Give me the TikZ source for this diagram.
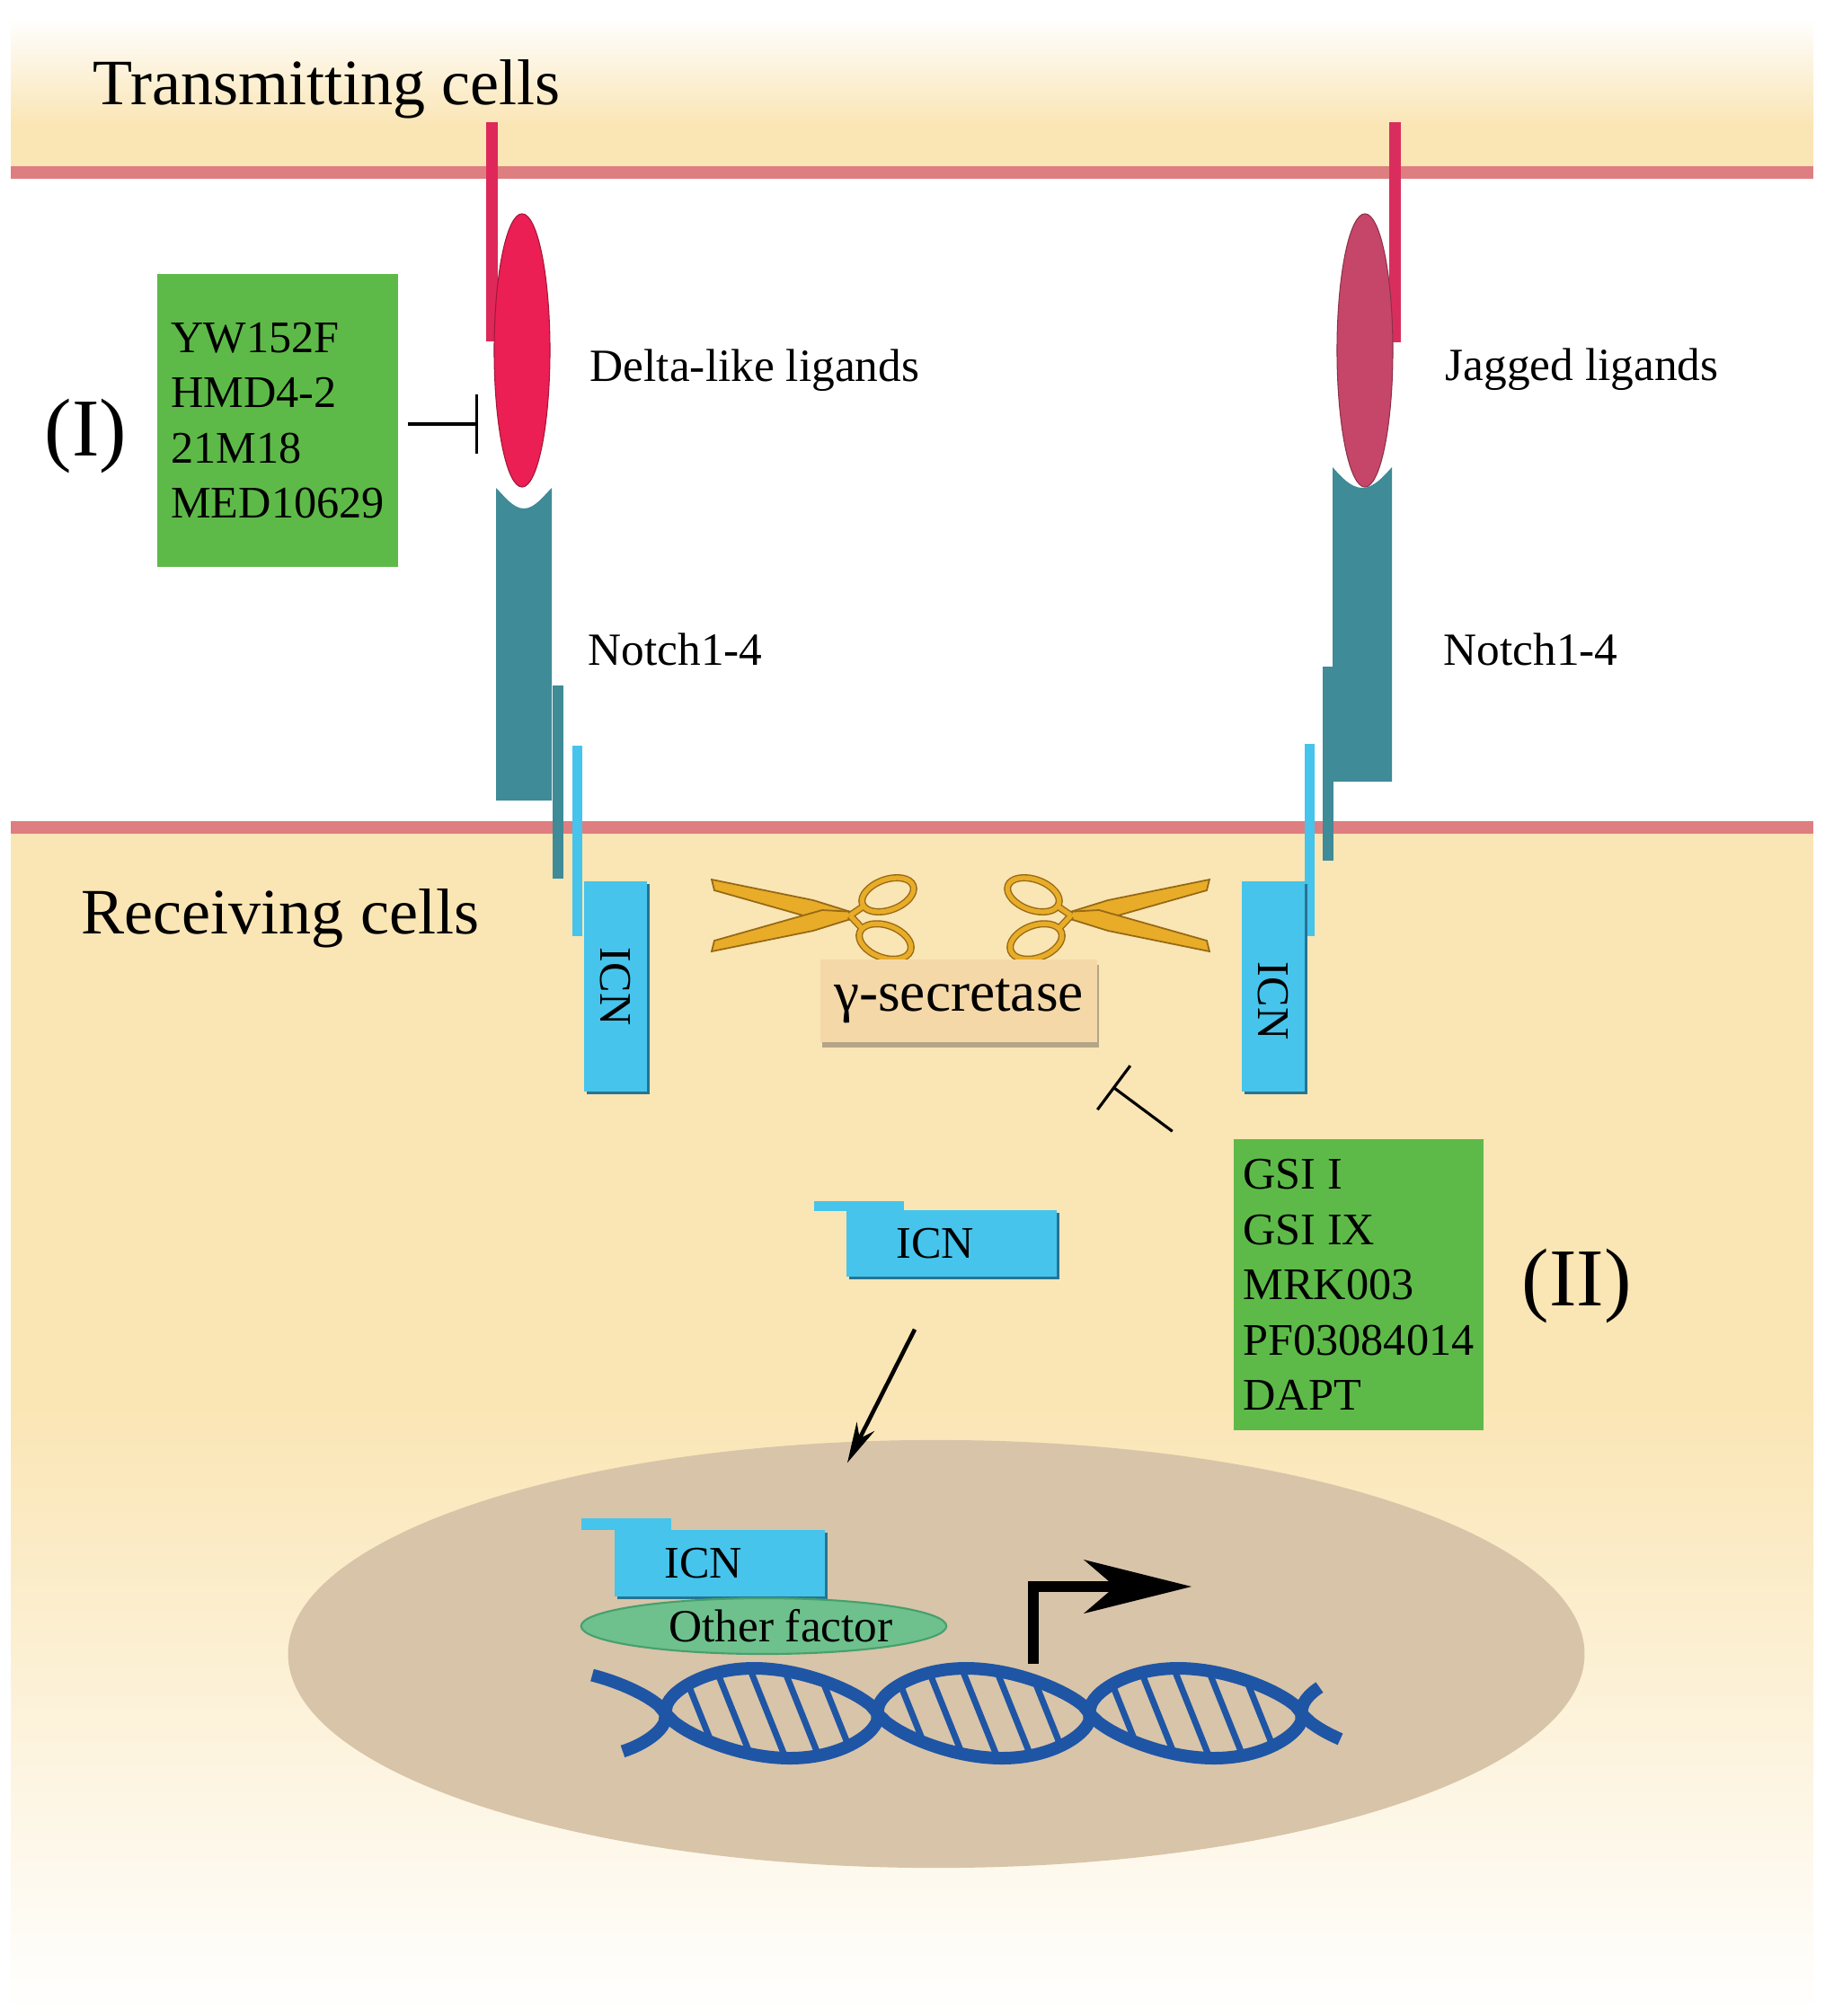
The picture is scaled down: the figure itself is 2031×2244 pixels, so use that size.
\documentclass[tikz,border=0pt]{standalone}
\usepackage{fontspec}
\setmainfont{Liberation Serif}
\usepackage{graphicx}
\usetikzlibrary{arrows.meta, shapes.geometric, shadows, calc}

\definecolor{cream}{RGB}{250,229,180}
\definecolor{membrane}{RGB}{222,126,128}
\definecolor{dllred}{RGB}{235,31,83}
\definecolor{jagred}{RGB}{198,70,106}
\definecolor{stalkred}{RGB}{222,40,90}
\definecolor{notchteal}{RGB}{63,139,151}
\definecolor{icnblue}{RGB}{70,196,236}
\definecolor{icnedge}{RGB}{40,115,145}
\definecolor{druggreen}{RGB}{94,186,72}
\definecolor{gsecbox}{RGB}{244,216,168}
\definecolor{gsecshadow}{RGB}{180,165,135}
\definecolor{scgold}{RGB}{232,172,40}
\definecolor{scdark}{RGB}{150,105,20}
\definecolor{nucleusfill}{RGB}{216,196,168}
\definecolor{factorgreen}{RGB}{110,193,140}
\definecolor{factoredge}{RGB}{70,160,110}
\definecolor{dnablue}{RGB}{31,85,165}

\newcommand{\titlefont}{\fontsize{20.5pt}{24pt}\selectfont}
\newcommand{\labelfont}{\fontsize{14.6pt}{17.5pt}\selectfont}
\newcommand{\drugfont}{\fontsize{14.3pt}{17.5pt}\selectfont}
\newcommand{\romanfont}{\fontsize{26pt}{30pt}\selectfont}
\newcommand{\gsecfont}{\fontsize{18pt}{21pt}\selectfont}

\tikzset{
    declare function={lobe(\t)=sin(\t)*pow(abs(sin(\t))+0.0001,-0.4);},
    membrane line/.style={draw=membrane, line width=0.14cm},
    ligand/.style={ellipse, inner sep=0pt, minimum width=0.62cm, minimum height=3.04cm},
    icnbox/.style={rectangle, fill=icnblue, inner sep=0pt, font=\drugfont,
        drop shadow={shadow xshift=0.03cm, shadow yshift=-0.03cm, fill=icnedge, opacity=1}},
    drugbox/.style={rectangle, fill=druggreen, align=left, inner sep=0pt, font=\drugfont},
    gsec/.style={rectangle, fill=gsecbox, inner sep=0pt, minimum width=3.07cm, minimum height=0.92cm, font=\gsecfont,
        drop shadow={shadow xshift=0.02cm, shadow yshift=-0.06cm, fill=gsecshadow, opacity=1}},
    label text/.style={anchor=base west, inner sep=0pt, font=\labelfont},
    blockline/.style={line width=0.9pt},
    ptarrow/.style={line width=1.3pt, -{Stealth[length=0.45cm, width=0.22cm]}},
    promoter/.style={line width=0.12cm, -{Stealth[length=1.2cm, width=0.6cm, inset=0.35cm, line width=0pt]}},
    blade/.style={fill=scgold, draw=scdark, line width=0.5pt},
    ringout/.style={draw=scdark, line width=0.08cm},
    ringin/.style={draw=scgold, line width=0.052cm},
    dnastrand/.style={draw=dnablue, line width=0.14cm},
    dnarung/.style={draw=dnablue, line width=0.07cm}
}

\begin{document}
\begin{tikzpicture}[x=0.01cm, y=-0.01cm]
        \useasboundingbox (0,0) rectangle (2031,2244);
        \fill[white] (0,0) rectangle (2031,2244);
        \shade[top color=white, bottom color=cream] (12,20) rectangle (2018,140);
        \fill[cream] (12,139) rectangle (2018,192);
        \fill[cream] (12,921) rectangle (2018,1560);
        \shade[top color=cream, bottom color=white] (12,1559) rectangle (2018,2244);
        \draw[membrane line] (12,192) -- (2018,192);
        \draw[membrane line] (12,921) -- (2018,921);

        \node[anchor=base west, inner sep=0pt, font=\titlefont] (transmit) at (103,116) {Transmitting cells};
        \node[anchor=base west, inner sep=0pt, font=\titlefont] (receive) at (90,1039) {Receiving cells};

        \fill[stalkred] (541,136) rectangle (554,380);
        \fill[stalkred!80!jagred] (1546,136) rectangle (1559,381);
        \node[ligand, fill=dllred, draw=dllred!70!black, line width=0.3pt] (dll) at (581,390) {};
        \node[ligand, fill=jagred, draw=jagred!70!black, line width=0.3pt] (jag) at (1519,390) {};
        \node[label text] (dlltext) at (656,424) {Delta-like ligands};
        \node[label text] (jagtext) at (1608,423) {Jagged ligands};

        \fill[notchteal] (552,891) -- (552,543) .. controls (561,552) and (571,566) .. (583,566)
            .. controls (595,566) and (605,552) .. (614,543) -- (614,891) -- cycle;
        \fill[notchteal] (1483,870) -- (1483,520) .. controls (1492,530) and (1503,543) .. (1516,543)
            .. controls (1529,543) and (1540,530) .. (1549,520) -- (1549,870) -- cycle;
        \node[label text] (notchl) at (654,740) {Notch1-4};
        \node[label text] (notchr) at (1606,740) {Notch1-4};

        \fill[notchteal] (615,763) rectangle (627,978);
        \fill[icnblue] (637,830) rectangle (648,1042);
        \fill[notchteal] (1472,742) rectangle (1484,958);
        \fill[icnblue] (1452,828) rectangle (1463,1042);
        \node[icnbox, minimum width=0.70cm, minimum height=2.34cm] (icnl) at (685,1098) {\rotatebox{-90}{ICN}};
        \node[icnbox, minimum width=0.70cm, minimum height=2.34cm] (icnr) at (1417,1098) {\rotatebox{-90}{\hspace*{0.32cm}ICN}};

        \node[drugbox, minimum width=2.68cm, minimum height=3.25cm] (drugsI) at (309,468)
            {YW152F\\HMD4-2\\21M18\\MED10629};
        \node[anchor=base west, inner sep=0pt, font=\romanfont] (romI) at (49,507) {(I)};
        \draw[blockline, -{Bar[width=0.66cm]}] ($(drugsI.east)+(10,4)$) -- ($(dll.west)+(-17,82)$);

        \foreach \mx/\ms in {0/1, 2138/-1} {
            \begin{scope}[shift={(\mx,0)}, xscale=\ms]
                \fill[blade] (792,979) -- (905,1002) -- (950,1016) -- (952,1023) -- (915,1025) -- (795,991) -- cycle;
                \fill[blade] (792,1059) -- (905,1036) -- (950,1022) -- (952,1015) -- (915,1013) -- (795,1047) -- cycle;
                \draw[ringout] (946,1019) -- (962,1008) (946,1019) -- (960,1034);
                \draw[ringout, rotate around={20:(988,996)}] (988,996) ellipse [x radius=30, y radius=17];
                \draw[ringout, rotate around={-20:(985,1048)}] (985,1048) ellipse [x radius=30, y radius=18];
                \draw[ringin] (946,1019) -- (962,1008) (946,1019) -- (960,1034);
                \draw[ringin, rotate around={20:(988,996)}] (988,996) ellipse [x radius=30, y radius=17];
                \draw[ringin, rotate around={-20:(985,1048)}] (985,1048) ellipse [x radius=30, y radius=18];
            \end{scope}
        }
        \node[gsec] (gsec) at (1067,1114) {γ-secretase};

        \node[drugbox, minimum width=2.77cm, minimum height=3.24cm] (drugsII) at (1512,1430)
            {GSI I\\GSI IX\\MRK003\\PF03084014\\DAPT};
        \node[anchor=base west, inner sep=0pt, font=\romanfont] (romII) at (1693,1453) {(II)};
        \draw[blockline, -{Bar[width=0.61cm]}] ($(drugsII.north west)+(-68,-8)$) -- ($(gsec.south east)+(17,49)$);

        \fill[icnblue] (906,1337) rectangle (1006,1348);
        \node[icnbox, minimum width=2.34cm, minimum height=0.74cm] (icnm) at (1059,1384) {ICN\hspace*{0.36cm}};

        \node[ellipse, fill=nucleusfill, inner sep=0pt, minimum width=14.42cm, minimum height=4.76cm] (nucleus) at (1042,1841) {};
        \draw[ptarrow] ($(icnm.south)+(-41,58)$) -- ($(nucleus.north)+(-99,26)$);

        \fill[icnblue] (647,1690) rectangle (747,1703);
        \node[icnbox, minimum width=2.33cm, minimum height=0.74cm] (icnn) at (801,1740) {ICN\hspace*{0.36cm}};
        \node[ellipse, fill=factorgreen, draw=factoredge, line width=0.6pt, inner sep=0pt,
            minimum width=4.04cm, minimum height=0.62cm, font=\labelfont] (factor) at (850,1810) {\hspace*{0.38cm}Other factor};

        \coordinate (tss) at (1150,1852);
        \draw[promoter] (tss) |- ++(176,-86);

        \foreach \k in {0,1,2}
            \foreach \f in {0.16,0.32,0.48,0.64,0.8} {
                \pgfmathsetmacro{\xr}{741+236*(\k+\f)}
                \pgfmathsetmacro{\sr}{lobe(180*(\k+\f))}
                \draw[dnarung] ({\xr-20*\sr},{1907-50*\sr}) -- ({\xr+20*\sr},{1907+50*\sr});
            }
        \foreach \s in {1,-1}
            \draw[dnastrand] plot[domain=676:1480, samples=161]
                ({\x-\s*20*lobe((\x-741)/236*180)}, {1907-\s*50*lobe((\x-741)/236*180)});
\end{tikzpicture}
\end{document}
